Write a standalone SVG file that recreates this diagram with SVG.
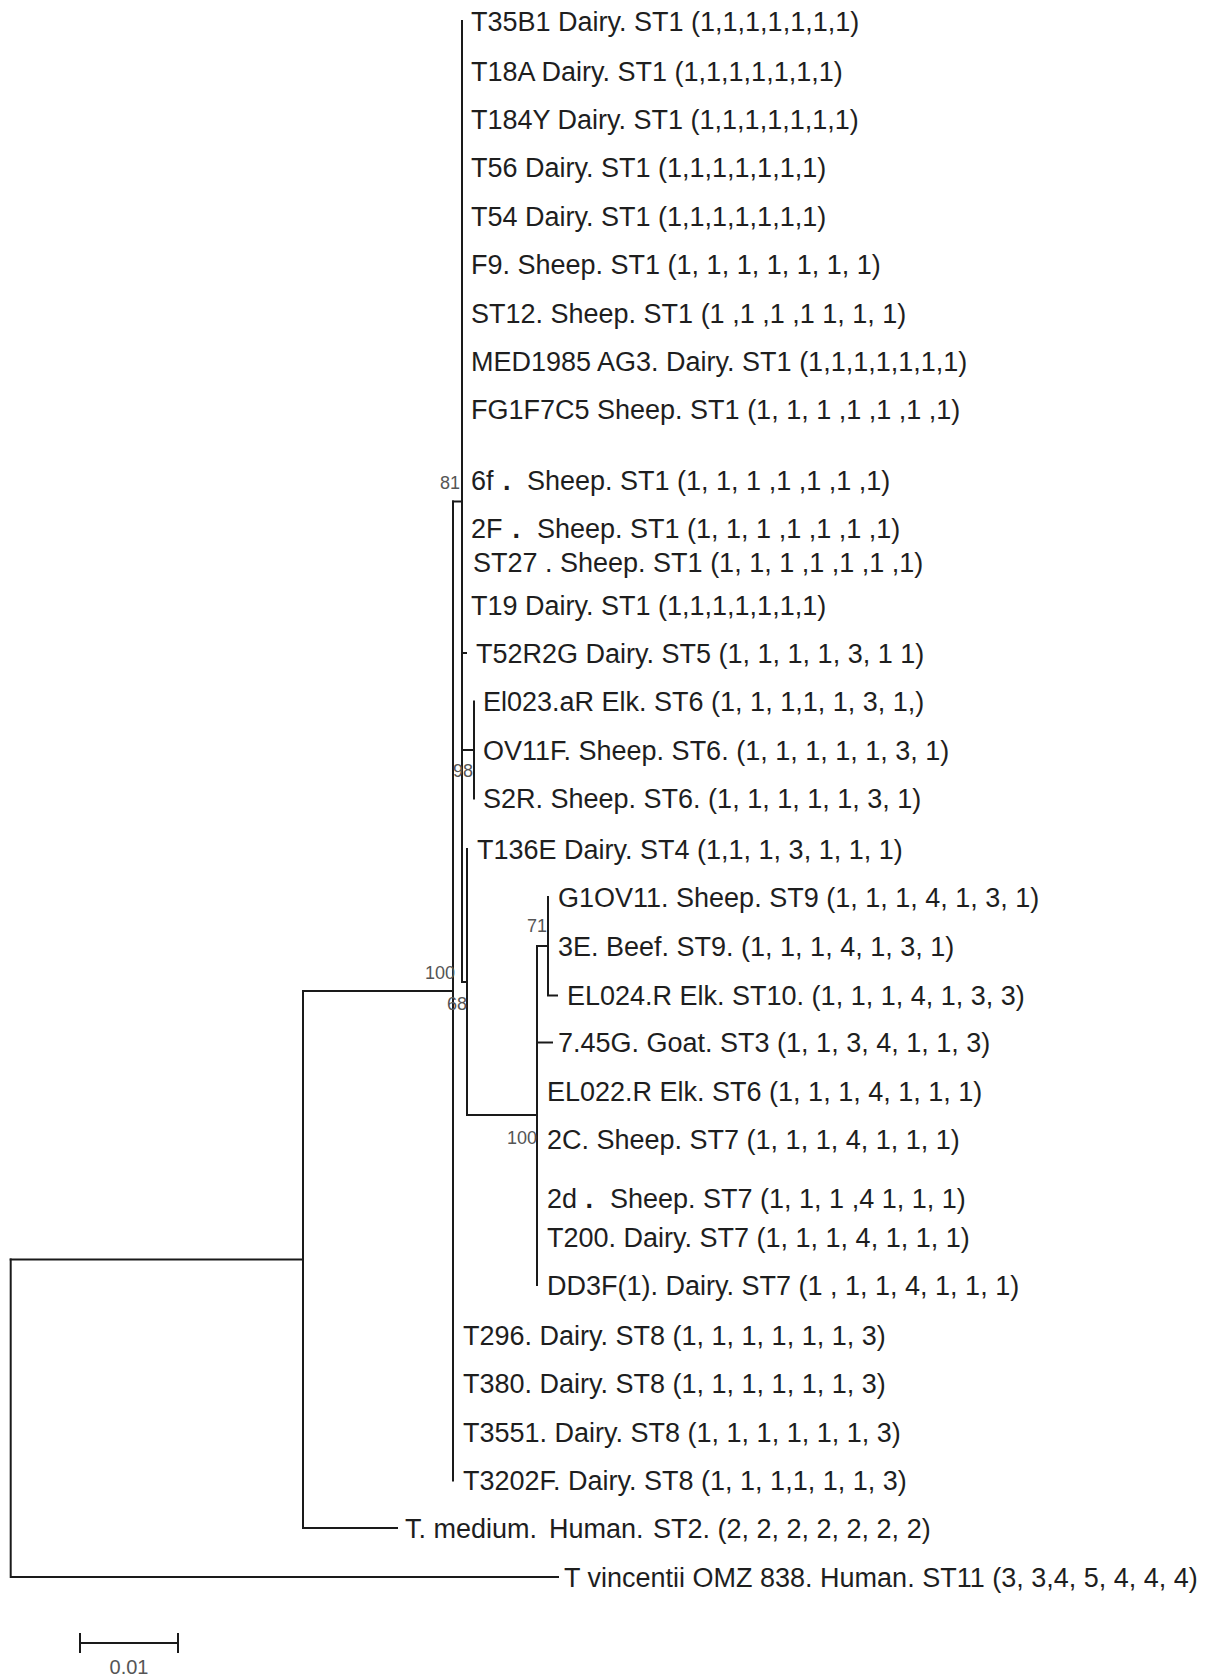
<svg xmlns="http://www.w3.org/2000/svg" width="1213" height="1679" viewBox="0 0 1213 1679">
<style>
.t{font-family:"Liberation Sans",Arial,sans-serif;font-size:27px;fill:#1e1e1e}
.b{font-family:"Liberation Sans",Arial,sans-serif;font-size:18px;fill:#555;text-anchor:end}
.e{fill:none;stroke:#1a1a1a;stroke-width:2;stroke-linecap:square}
.d{font-weight:bold}
</style>
<rect width="1213" height="1679" fill="#fff"/>
<g id="connectors" class="e">
<path d="M10.7,1259.5V1577H558"/>
<path d="M10.7,1259.5H303"/>
<path d="M303,991V1528H397"/>
<path d="M303,991H453"/>
<path d="M453,501.5V1480.5"/>
<path d="M453,501.5H462"/>
<path d="M462,21V982H467"/>
<path d="M462,653H466"/>
<path d="M462,750H474"/>
<path d="M474,701.5V798.5"/>
<path d="M467,849V1115H537"/>
<path d="M537,946V1285"/>
<path d="M537,946H548"/>
<path d="M548,897V995.5H557"/>
<path d="M537,1042.5H552"/>
</g>
<g id="bootstrap">
<text class="b" x="460" y="489">81</text>
<text class="b" x="473" y="777">98</text>
<text class="b" x="455" y="979">100</text>
<text class="b" x="467" y="1010">68</text>
<text class="b" x="547" y="932">71</text>
<text class="b" x="537" y="1144">100</text>
</g>
<g id="n1"><text class="t" x="471" y="30.5">T35B1 Dairy. ST1 (1,1,1,1,1,1,1)</text></g>
<g id="n2"><text class="t" x="471" y="80.5">T18A Dairy. ST1 (1,1,1,1,1,1,1)</text></g>
<g id="n3"><text class="t" x="471" y="128.5">T184Y Dairy. ST1 (1,1,1,1,1,1,1)</text></g>
<g id="n4"><text class="t" x="471" y="176.5">T56 Dairy. ST1 (1,1,1,1,1,1,1)</text></g>
<g id="n5"><text class="t" x="471" y="225.5">T54 Dairy. ST1 (1,1,1,1,1,1,1)</text></g>
<g id="n6"><text class="t" x="471" y="273.5">F9. Sheep. ST1 (1, 1, 1, 1, 1, 1, 1)</text></g>
<g id="n7"><text class="t" x="471" y="322.5">ST12. Sheep. ST1 (1 ,1 ,1 ,1 1, 1, 1)</text></g>
<g id="n8"><text class="t" x="471" y="370.5">MED1985 AG3. Dairy. ST1 (1,1,1,1,1,1,1)</text></g>
<g id="n9"><text class="t" x="471" y="418.5">FG1F7C5 Sheep. ST1 (1, 1, 1 ,1 ,1 ,1 ,1)</text></g>
<g id="n10"><text class="t" x="471" y="490">6f<tspan class="d" x="503">.</tspan><tspan x="527">Sheep. ST1 (1, 1, 1 ,1 ,1 ,1 ,1)</tspan></text></g>
<g id="n11"><text class="t" x="471" y="537.5">2F<tspan class="d" x="512.5">.</tspan><tspan x="537">Sheep. ST1 (1, 1, 1 ,1 ,1 ,1 ,1)</tspan></text></g>
<g id="n12"><text class="t" x="473" y="572">ST27 . Sheep. ST1 (1, 1, 1 ,1 ,1 ,1 ,1)</text></g>
<g id="n13"><text class="t" x="471" y="614.5">T19 Dairy. ST1 (1,1,1,1,1,1,1)</text></g>
<g id="n14"><text class="t" x="476" y="662.5">T52R2G Dairy. ST5 (1, 1, 1, 1, 3, 1 1)</text></g>
<g id="n15"><text class="t" x="483" y="711">El023.aR Elk. ST6 (1, 1, 1,1, 1, 3, 1,)</text></g>
<g id="n16"><text class="t" x="483" y="759.5">OV11F. Sheep. ST6. (1, 1, 1, 1, 1, 3, 1)</text></g>
<g id="n17"><text class="t" x="483" y="808">S2R. Sheep. ST6. (1, 1, 1, 1, 1, 3, 1)</text></g>
<g id="n18"><text class="t" x="477" y="859">T136E Dairy. ST4 (1,1, 1, 3, 1, 1, 1)</text></g>
<g id="n19"><text class="t" x="558" y="906.5">G1OV11. Sheep. ST9 (1, 1, 1, 4, 1, 3, 1)</text></g>
<g id="n20"><text class="t" x="558" y="956">3E. Beef. ST9. (1, 1, 1, 4, 1, 3, 1)</text></g>
<g id="n21"><text class="t" x="567" y="1005">EL024.R Elk. ST10. (1, 1, 1, 4, 1, 3, 3)</text></g>
<g id="n22"><text class="t" x="558" y="1052">7.45G. Goat. ST3 (1, 1, 3, 4, 1, 1, 3)</text></g>
<g id="n23"><text class="t" x="547" y="1101">EL022.R Elk. ST6 (1, 1, 1, 4, 1, 1, 1)</text></g>
<g id="n24"><text class="t" x="547" y="1148.5">2C. Sheep. ST7 (1, 1, 1, 4, 1, 1, 1)</text></g>
<g id="n25"><text class="t" x="547" y="1208">2d<tspan class="d" x="585.5">.</tspan><tspan x="610">Sheep. ST7 (1, 1, 1 ,4 1, 1, 1)</tspan></text></g>
<g id="n26"><text class="t" x="547" y="1246.5">T200. Dairy. ST7 (1, 1, 1, 4, 1, 1, 1)</text></g>
<g id="n27"><text class="t" x="547" y="1294.5">DD3F(1). Dairy. ST7 (1 , 1, 1, 4, 1, 1, 1)</text></g>
<g id="n28"><text class="t" x="463" y="1344.5">T296. Dairy. ST8 (1, 1, 1, 1, 1, 1, 3)</text></g>
<g id="n29"><text class="t" x="463" y="1393">T380. Dairy. ST8 (1, 1, 1, 1, 1, 1, 3)</text></g>
<g id="n30"><text class="t" x="463" y="1441.5">T3551. Dairy. ST8 (1, 1, 1, 1, 1, 1, 3)</text></g>
<g id="n31"><text class="t" x="463" y="1490">T3202F. Dairy. ST8 (1, 1, 1,1, 1, 1, 3)</text></g>
<g id="n32"><text class="t" x="405" y="1537.5">T. medium.<tspan x="549">Human.</tspan><tspan x="653">ST2. (2, 2, 2, 2, 2, 2, 2)</tspan></text></g>
<g id="n33"><text class="t" x="564" y="1586.5">T vincentii OMZ 838. Human.  ST11 (3, 3,4, 5, 4, 4, 4)</text></g>
<g id="scalebar">
<path class="e" d="M80,1643H178M80,1634V1652M178,1634V1652"/>
<text x="129" y="1674" style="font-family:'Liberation Sans',Arial,sans-serif;font-size:20px;fill:#555;text-anchor:middle">0.01</text>
</g>
</svg>
